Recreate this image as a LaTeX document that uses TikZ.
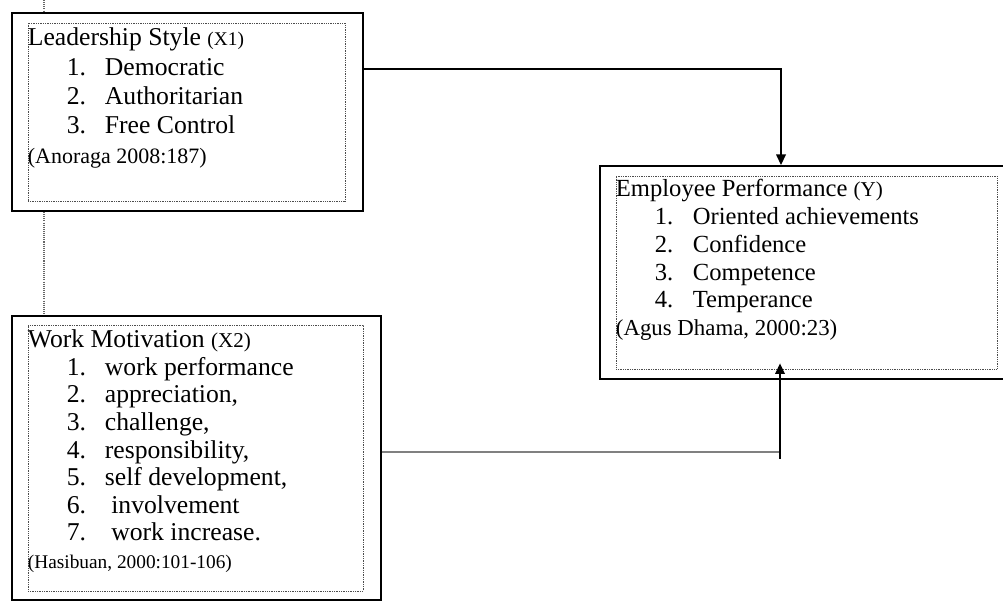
\documentclass[tikz,border=0pt]{standalone}
\usepackage{fontspec}
\setmainfont{Liberation Serif}
\usetikzlibrary{arrows.meta,positioning}

\newcommand{\sm}[2][11]{{\fontsize{#1}{12}\selectfont #2}}
\newcommand{\itm}[2]{\hspace*{0.78cm}\makebox[0.76cm][l]{#1}#2}

\begin{document}
\begin{tikzpicture}[
        outerbox/.style={draw,line width=1.1pt,fill=white,inner sep=0pt},
        innerbox/.style={draw=black!70,line width=0.5pt,dash pattern=on 0.5pt off 0.5pt,inner sep=0pt},
        boxtext/.style={anchor=north west,inner sep=0pt,align=left,yshift=-0.1cm},
        link/.style={line width=0.7pt,-{Triangle[length=6pt,width=5.5pt]}},
        guide/.style={draw=black!60,line width=0.6pt,dash pattern=on 0.6pt off 0.6pt}
    ]
        \clip (0,0) rectangle (20.06,-12.02);
        \node[outerbox,minimum width=7.02cm,minimum height=3.96cm] (lead) at (3.75,-2.24) {};
        \node[innerbox,minimum width=6.34cm,minimum height=3.56cm] (leadin) at (3.73,-2.24) {};
        \node[boxtext,font=\fontsize{14.6}{16.7}\selectfont] (leadtext) at (leadin.north west)
        {Leadership Style \sm{(X1)}\\
            \itm{1.}{Democratic}\\
            \itm{2.}{Authoritarian}\\
            \itm{3.}{Free Control}\\
            \sm[12.5]{(Anoraga 2008:187)}};

        \node[outerbox,minimum width=7.38cm,minimum height=5.68cm] (motiv) at (3.93,-9.16) {};
        \node[innerbox,minimum width=6.70cm,minimum height=5.32cm] (motivin) at (3.91,-9.16) {};
        \node[boxtext,font=\fontsize{14.6}{15.7}\selectfont] (motivtext) at (motivin.north west)
        {Work Motivation \sm[12]{(X2)}\\
            \itm{1.}{work performance}\\
            \itm{2.}{appreciation,}\\
            \itm{3.}{challenge,}\\
            \itm{4.}{responsibility,}\\
            \itm{5.}{self development,}\\
            \itm{6.}{\ involvement}\\
            \itm{7.}{\ work increase.}\\
            \sm{(Hasibuan, 2000:101-106)}};

        \node[outerbox,minimum width=8.24cm,minimum height=4.26cm] (perf) at (16.12,-5.45) {};
        \node[innerbox,minimum width=7.62cm,minimum height=3.86cm] (perfin) at (16.13,-5.45) {};
        \node[boxtext,font=\fontsize{14}{15.9}\selectfont,yshift=0.04cm] (perftext) at (perfin.north west)
        {Employee Performance \sm[12]{(Y)}\\
            \itm{1.}{Oriented achievements}\\
            \itm{2.}{Confidence}\\
            \itm{3.}{Competence}\\
            \itm{4.}{Temperance}\\
            \sm[13]{(Agus Dhama, 2000:23)}};

        \coordinate (top) at (0.88,0);
        \draw[guide] (top) -- (lead.north -| top);
        \draw[guide] (lead.south -| top) -- (motiv.north -| top);

        \draw[link] (lead.east |- 0,-1.38) -| ([xshift=-0.5cm]perf.north);

        \coordinate (join) at (15.6,-9.04);
        \draw[draw=black!50,line width=1.2pt] (motiv.east |- join) -- (join);
        \draw[link] ([yshift=-0.14cm]join) -- ([yshift=0.12cm]perfin.south -| join);
\end{tikzpicture}
\end{document}
